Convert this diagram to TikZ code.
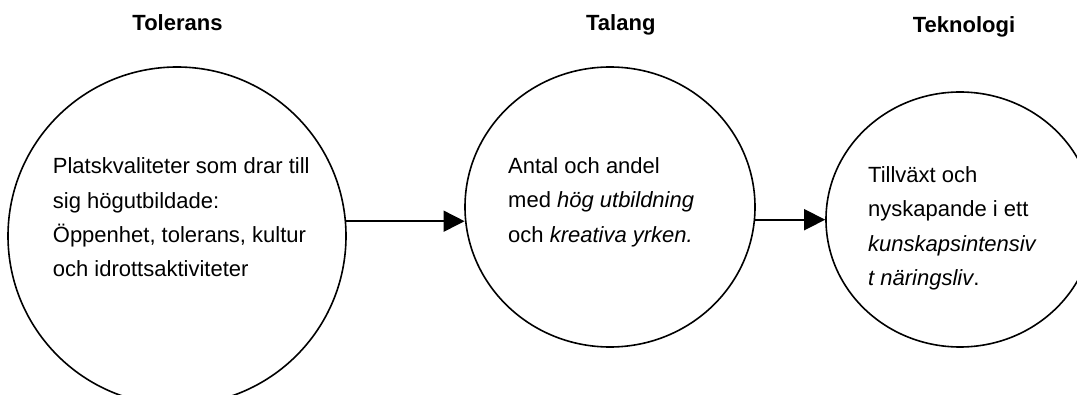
\documentclass[tikz,border=0pt]{standalone}
\usepackage{fontspec}
\setmainfont{Liberation Sans}
\usetikzlibrary{arrows.meta, shapes.geometric}

\begin{document}
\begin{tikzpicture}[x=1pt,y=1pt,
    every node/.style={inner sep=0pt, font=\fontsize{22}{34.4}\selectfont},
    ring/.style={draw, ellipse, line width=1.6pt},
    head/.style={anchor=base, font=\fontsize{22}{26}\selectfont\bfseries},
    body/.style={align=left, anchor=base west},
    arr/.style={-{Triangle[length=21pt,width=21pt]}, line width=1.6pt}]
    \useasboundingbox (0,0) rectangle (1077,394);

    \node[head] at (177.5, 363.3) (tol_head) {Tolerans};
    \node[head] at (620.8, 363.3) (tal_head) {Talang};
    \node[head] at (964, 361.7)   (tek_head) {Teknologi};

    \node[ring, minimum width=338pt, minimum height=338pt] at (177, 158)   (tol) {};
    \node[ring, minimum width=290pt, minimum height=280pt] at (610, 187)   (tal) {};
    \node[ring, minimum width=268pt, minimum height=255pt] at (960, 174.5) (tek) {};

    % base = last line
    \node[body] at (52.7, 117)  (tol_txt) {Platskvaliteter som drar till\\sig högutbildade:\\Öppenhet, tolerans, kultur\\och idrottsaktiviteter};
    \node[body] at (508, 151.7) (tal_txt) {Antal och andel\\med \textit{hög utbildning}\\och \textit{kreativa yrken.}};
    \node[body] at (868, 108.3) (tek_txt) {Tillväxt och\\nyskapande i ett\\\textit{kunskapsintensiv}\\\textit{t näringsliv}.};

    \draw[arr] (tol.5.77) -- (tol.5.77 -| tal.184.75);
    \draw[arr] (tal.355.25) -- (tal.355.25 -| tek.west);
\end{tikzpicture}
\end{document}
